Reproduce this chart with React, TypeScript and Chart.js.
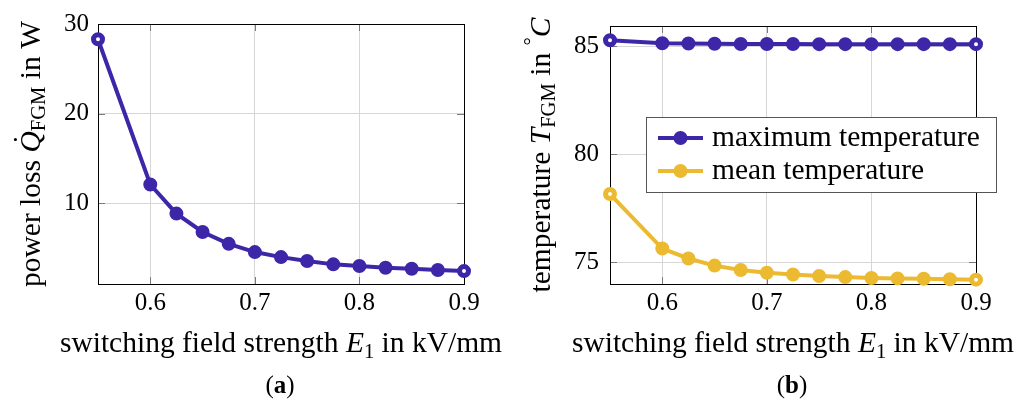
import React, { useEffect, useRef } from 'react';
import { Chart, registerables } from 'chart.js';

Chart.register(...registerables);

// ---------- data ----------
const fieldStrength = [0.55, 0.6, 0.625, 0.65, 0.675, 0.7, 0.725, 0.75, 0.775, 0.8, 0.825, 0.85, 0.875, 0.9];
const powerLoss = [28.3, 12.1, 8.85, 6.8, 5.48, 4.56, 4.0, 3.56, 3.19, 3.0, 2.81, 2.7, 2.56, 2.44];
const maxTemperature = [85.27, 85.13, 85.12, 85.11, 85.1, 85.1, 85.1, 85.09, 85.09, 85.09, 85.09, 85.09, 85.09, 85.09];
const meanTemperature = [78.16, 75.64, 75.18, 74.85, 74.65, 74.52, 74.44, 74.37, 74.32, 74.28, 74.26, 74.24, 74.22, 74.2];
const xTickValues = [0.6, 0.7, 0.8, 0.9];
const lossTickValues = [10, 20, 30];
const tempTickValues = [75, 80, 85];
const seriesLabels = ['maximum temperature', 'mean temperature'];

// ---------- styles ----------
const BLUE = '#3E26A8';
const YELLOW = '#ECBA30';
const FONT = '"Liberation Serif", "Times New Roman", serif';
const TITLE_SIZE = 29.5;
const TICK_SIZE = 25;

type Seg = { t: string; italic?: boolean; bold?: boolean; sub?: boolean; sup?: boolean; dot?: boolean };

function segFont(s: Seg, size: number) {
  const sz = s.sub || s.sup ? size * 0.7 : size;
  return `${s.italic ? 'italic ' : ''}${s.bold ? 'bold ' : ''}${sz}px ${FONT}`;
}

function drawRich(ctx: CanvasRenderingContext2D, segs: Seg[], x: number, y: number, size: number) {
  ctx.save();
  ctx.textBaseline = 'alphabetic';
  ctx.textAlign = 'left';
  ctx.fillStyle = '#000';
  const widths = segs.map((s) => {
    ctx.font = segFont(s, size);
    return ctx.measureText(s.t).width;
  });
  const total = widths.reduce((a, b) => a + b, 0);
  let cx = x - total / 2;
  segs.forEach((s, i) => {
    ctx.font = segFont(s, size);
    const dy = s.sub ? size * 0.2 : s.sup ? -size * 0.38 : 0;
    ctx.fillText(s.t, cx, y + dy);
    if (s.dot) {
      ctx.textAlign = 'center';
      ctx.font = `${size}px ${FONT}`;
      ctx.fillText('\u02D9', cx + widths[i] / 2 + size * 0.08, y - size * 0.2);
      ctx.textAlign = 'left';
    }
    cx += widths[i];
  });
  ctx.restore();
}

type PanelCfg = {
  width: number;
  yWidth: number;
  padRight: number;
  yMin: number;
  yMax: number;
  yTicks: number[];
  yTickPad: number;
  datasets: { label: string; data: number[]; color: string }[];
  yTitle: Seg[];
  yTitleX: number;
  caption: string;
  legend: boolean;
};

const xTitle: Seg[] = [
  { t: 'switching field strength ' },
  { t: 'E', italic: true },
  { t: '1', sub: true },
  { t: ' in kV/mm' },
];

function makeChart(canvas: HTMLCanvasElement, cfg: PanelCfg) {
  const frame = {
    id: 'frame',
    beforeDatasetsDraw(chart: any) {
      const { ctx, chartArea: a, scales } = chart;
      ctx.save();
      ctx.strokeStyle = '#7a7a7a';
      ctx.lineWidth = 1;
      const tl = 7;
      xTickValues.forEach((v) => {
        const px = Math.round(scales.x.getPixelForValue(v)) + 0.5;
        ctx.beginPath();
        ctx.moveTo(px, a.bottom);
        ctx.lineTo(px, a.bottom - tl);
        ctx.moveTo(px, a.top);
        ctx.lineTo(px, a.top + tl);
        ctx.stroke();
      });
      cfg.yTicks.forEach((v) => {
        const py = Math.round(scales.y.getPixelForValue(v)) + 0.5;
        ctx.beginPath();
        ctx.moveTo(a.left, py);
        ctx.lineTo(a.left + tl, py);
        ctx.moveTo(a.right, py);
        ctx.lineTo(a.right - tl, py);
        ctx.stroke();
      });
      ctx.strokeStyle = '#000';
      ctx.lineWidth = 1;
      ctx.strokeRect(Math.round(a.left) + 0.5, Math.round(a.top) + 0.5, Math.round(a.right - a.left), Math.round(a.bottom - a.top));
      ctx.restore();
    },
    afterDraw(chart: any) {
      const { ctx, chartArea: a } = chart;
      // x title
      drawRich(ctx, xTitle, (a.left + a.right) / 2, 352, TITLE_SIZE);
      // y title
      ctx.save();
      ctx.translate(cfg.yTitleX, (a.top + a.bottom) / 2);
      ctx.rotate(-Math.PI / 2);
      drawRich(ctx, cfg.yTitle, 0, 0, TITLE_SIZE);
      ctx.restore();
      // caption
      drawRich(ctx, [{ t: '(' }, { t: cfg.caption, bold: true }, { t: ')' }], (a.left + a.right) / 2 - 1, 393, 25);
      // legend
      if (cfg.legend) {
        const bx = 131.5, by = 117.5, bw = 350, bh = 75;
        ctx.save();
        ctx.fillStyle = '#fff';
        ctx.fillRect(bx, by, bw, bh);
        ctx.strokeStyle = '#555';
        ctx.lineWidth = 1;
        ctx.strokeRect(bx, by, bw, bh);
        chart.data.datasets.forEach((ds: any, i: number) => {
          const ry = 138 + i * 33;
          ctx.strokeStyle = ds.borderColor;
          ctx.lineWidth = 4;
          ctx.beginPath();
          ctx.moveTo(143, ry);
          ctx.lineTo(188, ry);
          ctx.stroke();
          ctx.fillStyle = ds.borderColor;
          ctx.beginPath();
          ctx.arc(165.5, ry, 7, 0, Math.PI * 2);
          ctx.fill();
          ctx.fillStyle = '#000';
          ctx.font = `${TITLE_SIZE}px ${FONT}`;
          ctx.textBaseline = 'alphabetic';
          ctx.textAlign = 'left';
          ctx.fillText(ds.label, 197, ry + 8);
        });
        ctx.restore();
      }
    },
  };

  return new Chart(canvas, {
    type: 'line',
    data: {
      datasets: cfg.datasets.map((d) => ({
        label: d.label,
        data: d.data.map((y, i) => ({ x: fieldStrength[i], y })),
        borderColor: d.color,
        backgroundColor: d.color,
        borderWidth: 4,
        pointRadius: 4.5,
        pointBorderWidth: 5,
        pointBorderColor: d.color,
        pointBackgroundColor: d.data.map((_, i) => (i === 0 || i === d.data.length - 1 ? '#fff' : d.color)),
        tension: 0,
        clip: false as any,
      })),
    },
    options: {
      responsive: false,
      animation: false,
      events: [],
      layout: { padding: { top: 23, right: cfg.padRight, left: 0, bottom: 0 } },
      plugins: { legend: { display: false }, tooltip: { enabled: false } },
      scales: {
        x: {
          type: 'linear',
          min: 0.55,
          max: 0.9,
          afterBuildTicks: (s: any) => {
            s.ticks = xTickValues.map((v) => ({ value: v }));
          },
          afterFit: (s: any) => {
            s.height = 121;
          },
          ticks: {
            color: '#000',
            font: { family: FONT, size: TICK_SIZE },
            padding: 4,
            maxRotation: 0,
            callback: (v: any) => Number(v).toFixed(1),
          },
          grid: { color: '#d6d6d6', lineWidth: 1, drawTicks: false },
          border: { display: false },
        },
        y: {
          type: 'linear',
          min: cfg.yMin,
          max: cfg.yMax,
          afterBuildTicks: (s: any) => {
            s.ticks = cfg.yTicks.map((v) => ({ value: v }));
          },
          afterFit: (s: any) => {
            s.width = cfg.yWidth;
          },
          ticks: {
            color: '#000',
            font: { family: FONT, size: TICK_SIZE },
            padding: cfg.yTickPad,
            callback: (v: any) => String(v),
          },
          grid: { color: '#d6d6d6', lineWidth: 1, drawTicks: false },
          border: { display: false },
        },
      },
    } as any,
    plugins: [frame],
  });
}

function Panel({ cfg, left }: { cfg: PanelCfg; left: number }) {
  const ref = useRef<HTMLCanvasElement | null>(null);
  useEffect(() => {
    if (!ref.current) return;
    const chart = makeChart(ref.current, cfg);
    return () => chart.destroy();
  }, []);
  return (
    <canvas
      ref={ref}
      width={cfg.width}
      height={405}
      style={{ position: 'absolute', left, top: 0, width: cfg.width, height: 405 }}
    />
  );
}

const leftCfg: PanelCfg = {
  width: 515,
  yWidth: 98,
  padRight: 51,
  yMin: 1,
  yMax: 30,
  yTicks: lossTickValues,
  yTickPad: 9,
  datasets: [{ label: 'power loss', data: powerLoss, color: BLUE }],
  yTitle: [
    { t: 'power loss ' },
    { t: 'Q', italic: true, dot: true },
    { t: 'FGM', sub: true },
    { t: ' in W' },
  ],
  yTitleX: 39.5,
  caption: 'a',
  legend: false,
};

const rightCfg: PanelCfg = {
  width: 514,
  yWidth: 95,
  padRight: 53,
  yMin: 74.0,
  yMax: 85.93,
  yTicks: tempTickValues,
  yTickPad: 11,
  datasets: [
    { label: seriesLabels[0], data: maxTemperature, color: BLUE },
    { label: seriesLabels[1], data: meanTemperature, color: YELLOW },
  ],
  yTitle: [
    { t: 'temperature ' },
    { t: 'T', italic: true },
    { t: 'FGM', sub: true },
    { t: ' in ' },
    { t: '\u00B0', sup: true },
    { t: 'C', italic: true },
  ],
  yTitleX: 34.5,
  caption: 'b',
  legend: true,
};

export default function App() {
  useEffect(() => {
    document.body.style.margin = '0';
    document.body.style.background = '#fff';
  }, []);
  return (
    <div style={{ position: 'relative', width: 1029, height: 405, overflow: 'hidden', background: '#fff' }}>
      <Panel cfg={leftCfg} left={0} />
      <Panel cfg={rightCfg} left={515} />
    </div>
  );
}
